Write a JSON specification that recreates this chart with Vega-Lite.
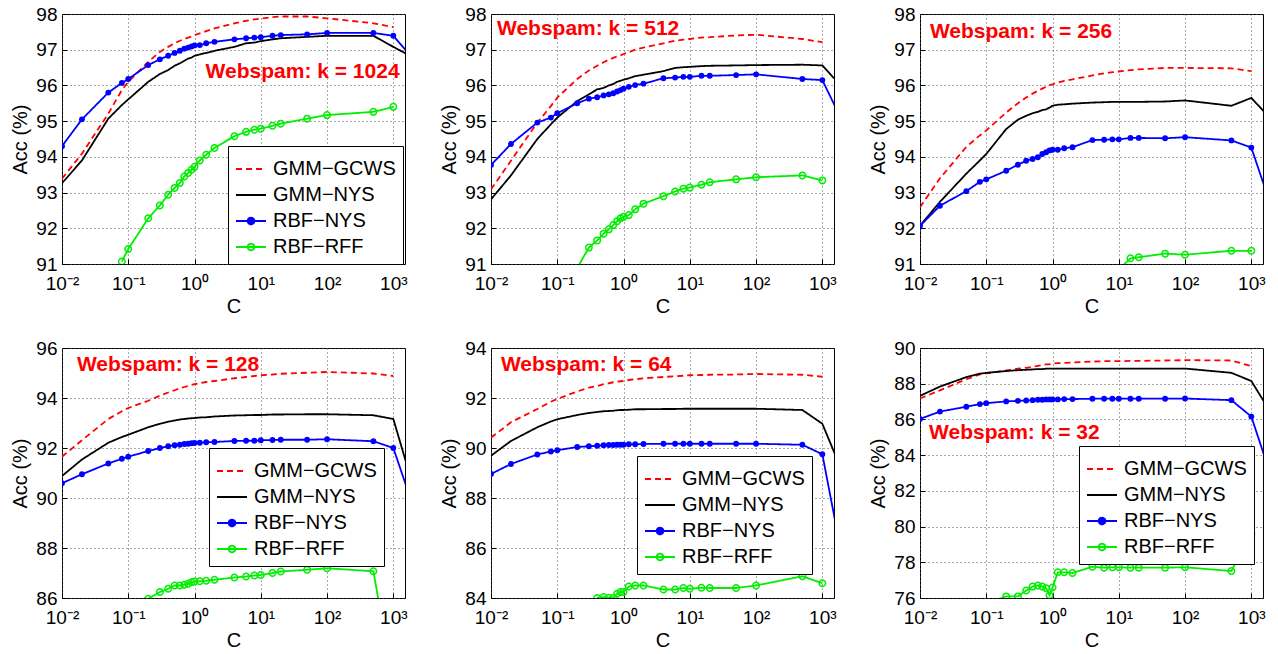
{
"$schema": "https://vega.github.io/schema/vega-lite/v6.json",
"padding": {"left": 10, "top": 4, "right": 0, "bottom": 0},
"autosize": {"type": "pad"},
"background": "white",
"bounds": "flush",
"spacing": {"row": 84, "column": 86},
"columns": 3,
"resolve": {"scale": {"x": "independent", "y": "independent", "color": "independent", "strokeDash": "independent"}, "legend": {"color": "independent", "strokeDash": "independent"}},
"datasets": {
"notes": [
{"k":1024,"C":1.47,"acc":96.37,"label":"Webspam: k = 1024"},
{"k":512,"C":0.0123,"acc":97.58,"label":"Webspam: k = 512"},
{"k":256,"C":0.0141,"acc":97.49,"label":"Webspam: k = 256"},
{"k":128,"C":0.0168,"acc":95.33,"label":"Webspam: k = 128"},
{"k":64,"C":0.0141,"acc":93.33,"label":"Webspam: k = 64"},
{"k":32,"C":0.0137,"acc":85.22,"label":"Webspam: k = 32"}
],
"acc": [
{"k":1024,"s":"GMM−GCWS","C":0.01,"acc":93.39},{"k":1024,"s":"GMM−GCWS","C":0.02,"acc":94.09},{"k":1024,"s":"GMM−GCWS","C":0.05,"acc":95.21},{"k":1024,"s":"GMM−GCWS","C":0.08,"acc":95.87},{"k":1024,"s":"GMM−GCWS","C":0.1,"acc":96.10},{"k":1024,"s":"GMM−GCWS","C":0.2,"acc":96.66},{"k":1024,"s":"GMM−GCWS","C":0.3,"acc":96.94},{"k":1024,"s":"GMM−GCWS","C":0.4,"acc":97.08},{"k":1024,"s":"GMM−GCWS","C":0.5,"acc":97.18},{"k":1024,"s":"GMM−GCWS","C":0.6,"acc":97.25},{"k":1024,"s":"GMM−GCWS","C":0.7,"acc":97.30},{"k":1024,"s":"GMM−GCWS","C":0.8,"acc":97.34},{"k":1024,"s":"GMM−GCWS","C":0.9,"acc":97.37},{"k":1024,"s":"GMM−GCWS","C":1,"acc":97.41},{"k":1024,"s":"GMM−GCWS","C":1.2,"acc":97.46},{"k":1024,"s":"GMM−GCWS","C":1.5,"acc":97.52},{"k":1024,"s":"GMM−GCWS","C":2,"acc":97.60},{"k":1024,"s":"GMM−GCWS","C":4,"acc":97.74},{"k":1024,"s":"GMM−GCWS","C":6,"acc":97.81},{"k":1024,"s":"GMM−GCWS","C":8,"acc":97.85},{"k":1024,"s":"GMM−GCWS","C":10,"acc":97.87},{"k":1024,"s":"GMM−GCWS","C":15,"acc":97.91},{"k":1024,"s":"GMM−GCWS","C":20,"acc":97.93},{"k":1024,"s":"GMM−GCWS","C":50,"acc":97.93},{"k":1024,"s":"GMM−GCWS","C":100,"acc":97.88},{"k":1024,"s":"GMM−GCWS","C":500,"acc":97.74},{"k":1024,"s":"GMM−GCWS","C":1000,"acc":97.63},
{"k":1024,"s":"GMM−NYS","C":0.01,"acc":93.26},{"k":1024,"s":"GMM−NYS","C":0.02,"acc":93.90},{"k":1024,"s":"GMM−NYS","C":0.05,"acc":95.07},{"k":1024,"s":"GMM−NYS","C":0.08,"acc":95.45},{"k":1024,"s":"GMM−NYS","C":0.1,"acc":95.61},{"k":1024,"s":"GMM−NYS","C":0.2,"acc":96.10},{"k":1024,"s":"GMM−NYS","C":0.3,"acc":96.32},{"k":1024,"s":"GMM−NYS","C":0.4,"acc":96.43},{"k":1024,"s":"GMM−NYS","C":0.5,"acc":96.55},{"k":1024,"s":"GMM−NYS","C":0.6,"acc":96.62},{"k":1024,"s":"GMM−NYS","C":0.7,"acc":96.69},{"k":1024,"s":"GMM−NYS","C":0.8,"acc":96.75},{"k":1024,"s":"GMM−NYS","C":0.9,"acc":96.78},{"k":1024,"s":"GMM−NYS","C":1,"acc":96.83},{"k":1024,"s":"GMM−NYS","C":1.2,"acc":96.87},{"k":1024,"s":"GMM−NYS","C":1.5,"acc":96.91},{"k":1024,"s":"GMM−NYS","C":2,"acc":96.97},{"k":1024,"s":"GMM−NYS","C":4,"acc":97.08},{"k":1024,"s":"GMM−NYS","C":6,"acc":97.18},{"k":1024,"s":"GMM−NYS","C":8,"acc":97.20},{"k":1024,"s":"GMM−NYS","C":10,"acc":97.24},{"k":1024,"s":"GMM−NYS","C":15,"acc":97.29},{"k":1024,"s":"GMM−NYS","C":20,"acc":97.32},{"k":1024,"s":"GMM−NYS","C":50,"acc":97.36},{"k":1024,"s":"GMM−NYS","C":100,"acc":97.39},{"k":1024,"s":"GMM−NYS","C":500,"acc":97.39},{"k":1024,"s":"GMM−NYS","C":1000,"acc":97.08},{"k":1024,"s":"GMM−NYS","C":2000,"acc":96.78},
{"k":1024,"s":"RBF−NYS","C":0.01,"acc":94.30},{"k":1024,"s":"RBF−NYS","C":0.02,"acc":95.05},{"k":1024,"s":"RBF−NYS","C":0.05,"acc":95.80},{"k":1024,"s":"RBF−NYS","C":0.08,"acc":96.07},{"k":1024,"s":"RBF−NYS","C":0.1,"acc":96.18},{"k":1024,"s":"RBF−NYS","C":0.2,"acc":96.57},{"k":1024,"s":"RBF−NYS","C":0.3,"acc":96.73},{"k":1024,"s":"RBF−NYS","C":0.4,"acc":96.83},{"k":1024,"s":"RBF−NYS","C":0.5,"acc":96.91},{"k":1024,"s":"RBF−NYS","C":0.6,"acc":96.97},{"k":1024,"s":"RBF−NYS","C":0.7,"acc":97.03},{"k":1024,"s":"RBF−NYS","C":0.8,"acc":97.06},{"k":1024,"s":"RBF−NYS","C":0.9,"acc":97.09},{"k":1024,"s":"RBF−NYS","C":1,"acc":97.12},{"k":1024,"s":"RBF−NYS","C":1.2,"acc":97.13},{"k":1024,"s":"RBF−NYS","C":1.5,"acc":97.18},{"k":1024,"s":"RBF−NYS","C":2,"acc":97.22},{"k":1024,"s":"RBF−NYS","C":4,"acc":97.29},{"k":1024,"s":"RBF−NYS","C":6,"acc":97.32},{"k":1024,"s":"RBF−NYS","C":8,"acc":97.34},{"k":1024,"s":"RBF−NYS","C":10,"acc":97.35},{"k":1024,"s":"RBF−NYS","C":15,"acc":97.39},{"k":1024,"s":"RBF−NYS","C":20,"acc":97.41},{"k":1024,"s":"RBF−NYS","C":50,"acc":97.43},{"k":1024,"s":"RBF−NYS","C":100,"acc":97.47},{"k":1024,"s":"RBF−NYS","C":500,"acc":97.47},{"k":1024,"s":"RBF−NYS","C":1000,"acc":97.39},{"k":1024,"s":"RBF−NYS","C":2000,"acc":96.74},
{"k":1024,"s":"RBF−RFF","C":0.08,"acc":91.07},{"k":1024,"s":"RBF−RFF","C":0.1,"acc":91.42},{"k":1024,"s":"RBF−RFF","C":0.2,"acc":92.28},{"k":1024,"s":"RBF−RFF","C":0.3,"acc":92.64},{"k":1024,"s":"RBF−RFF","C":0.4,"acc":92.94},{"k":1024,"s":"RBF−RFF","C":0.5,"acc":93.13},{"k":1024,"s":"RBF−RFF","C":0.6,"acc":93.27},{"k":1024,"s":"RBF−RFF","C":0.7,"acc":93.45},{"k":1024,"s":"RBF−RFF","C":0.8,"acc":93.55},{"k":1024,"s":"RBF−RFF","C":0.9,"acc":93.64},{"k":1024,"s":"RBF−RFF","C":1,"acc":93.72},{"k":1024,"s":"RBF−RFF","C":1.2,"acc":93.90},{"k":1024,"s":"RBF−RFF","C":1.5,"acc":94.06},{"k":1024,"s":"RBF−RFF","C":2,"acc":94.25},{"k":1024,"s":"RBF−RFF","C":4,"acc":94.58},{"k":1024,"s":"RBF−RFF","C":6,"acc":94.70},{"k":1024,"s":"RBF−RFF","C":8,"acc":94.76},{"k":1024,"s":"RBF−RFF","C":10,"acc":94.79},{"k":1024,"s":"RBF−RFF","C":15,"acc":94.87},{"k":1024,"s":"RBF−RFF","C":20,"acc":94.93},{"k":1024,"s":"RBF−RFF","C":50,"acc":95.07},{"k":1024,"s":"RBF−RFF","C":100,"acc":95.17},{"k":1024,"s":"RBF−RFF","C":500,"acc":95.26},{"k":1024,"s":"RBF−RFF","C":1000,"acc":95.40},

{"k":512,"s":"GMM−GCWS","C":0.01,"acc":93.09},{"k":512,"s":"GMM−GCWS","C":0.02,"acc":93.89},{"k":512,"s":"GMM−GCWS","C":0.05,"acc":94.96},{"k":512,"s":"GMM−GCWS","C":0.08,"acc":95.42},{"k":512,"s":"GMM−GCWS","C":0.1,"acc":95.66},{"k":512,"s":"GMM−GCWS","C":0.2,"acc":96.18},{"k":512,"s":"GMM−GCWS","C":0.3,"acc":96.42},{"k":512,"s":"GMM−GCWS","C":0.4,"acc":96.55},{"k":512,"s":"GMM−GCWS","C":0.5,"acc":96.65},{"k":512,"s":"GMM−GCWS","C":0.6,"acc":96.72},{"k":512,"s":"GMM−GCWS","C":0.7,"acc":96.77},{"k":512,"s":"GMM−GCWS","C":0.8,"acc":96.81},{"k":512,"s":"GMM−GCWS","C":0.9,"acc":96.84},{"k":512,"s":"GMM−GCWS","C":1,"acc":96.88},{"k":512,"s":"GMM−GCWS","C":1.2,"acc":96.93},{"k":512,"s":"GMM−GCWS","C":1.5,"acc":97.00},{"k":512,"s":"GMM−GCWS","C":2,"acc":97.06},{"k":512,"s":"GMM−GCWS","C":4,"acc":97.18},{"k":512,"s":"GMM−GCWS","C":6,"acc":97.25},{"k":512,"s":"GMM−GCWS","C":8,"acc":97.28},{"k":512,"s":"GMM−GCWS","C":10,"acc":97.30},{"k":512,"s":"GMM−GCWS","C":15,"acc":97.34},{"k":512,"s":"GMM−GCWS","C":20,"acc":97.35},{"k":512,"s":"GMM−GCWS","C":50,"acc":97.40},{"k":512,"s":"GMM−GCWS","C":100,"acc":97.42},{"k":512,"s":"GMM−GCWS","C":500,"acc":97.30},{"k":512,"s":"GMM−GCWS","C":1000,"acc":97.21},
{"k":512,"s":"GMM−NYS","C":0.01,"acc":92.81},{"k":512,"s":"GMM−NYS","C":0.02,"acc":93.48},{"k":512,"s":"GMM−NYS","C":0.05,"acc":94.50},{"k":512,"s":"GMM−NYS","C":0.08,"acc":94.91},{"k":512,"s":"GMM−NYS","C":0.1,"acc":95.10},{"k":512,"s":"GMM−NYS","C":0.2,"acc":95.56},{"k":512,"s":"GMM−NYS","C":0.3,"acc":95.75},{"k":512,"s":"GMM−NYS","C":0.4,"acc":95.89},{"k":512,"s":"GMM−NYS","C":0.5,"acc":95.93},{"k":512,"s":"GMM−NYS","C":0.6,"acc":96.00},{"k":512,"s":"GMM−NYS","C":0.7,"acc":96.04},{"k":512,"s":"GMM−NYS","C":0.8,"acc":96.10},{"k":512,"s":"GMM−NYS","C":0.9,"acc":96.13},{"k":512,"s":"GMM−NYS","C":1,"acc":96.16},{"k":512,"s":"GMM−NYS","C":1.2,"acc":96.20},{"k":512,"s":"GMM−NYS","C":1.5,"acc":96.26},{"k":512,"s":"GMM−NYS","C":2,"acc":96.30},{"k":512,"s":"GMM−NYS","C":4,"acc":96.40},{"k":512,"s":"GMM−NYS","C":6,"acc":96.49},{"k":512,"s":"GMM−NYS","C":8,"acc":96.51},{"k":512,"s":"GMM−NYS","C":10,"acc":96.52},{"k":512,"s":"GMM−NYS","C":15,"acc":96.54},{"k":512,"s":"GMM−NYS","C":20,"acc":96.55},{"k":512,"s":"GMM−NYS","C":50,"acc":96.56},{"k":512,"s":"GMM−NYS","C":100,"acc":96.57},{"k":512,"s":"GMM−NYS","C":500,"acc":96.58},{"k":512,"s":"GMM−NYS","C":1000,"acc":96.56},{"k":512,"s":"GMM−NYS","C":2000,"acc":95.95},
{"k":512,"s":"RBF−NYS","C":0.01,"acc":93.77},{"k":512,"s":"RBF−NYS","C":0.02,"acc":94.36},{"k":512,"s":"RBF−NYS","C":0.05,"acc":94.96},{"k":512,"s":"RBF−NYS","C":0.08,"acc":95.10},{"k":512,"s":"RBF−NYS","C":0.1,"acc":95.22},{"k":512,"s":"RBF−NYS","C":0.2,"acc":95.50},{"k":512,"s":"RBF−NYS","C":0.3,"acc":95.63},{"k":512,"s":"RBF−NYS","C":0.4,"acc":95.67},{"k":512,"s":"RBF−NYS","C":0.5,"acc":95.72},{"k":512,"s":"RBF−NYS","C":0.6,"acc":95.75},{"k":512,"s":"RBF−NYS","C":0.7,"acc":95.78},{"k":512,"s":"RBF−NYS","C":0.8,"acc":95.83},{"k":512,"s":"RBF−NYS","C":0.9,"acc":95.87},{"k":512,"s":"RBF−NYS","C":1,"acc":95.91},{"k":512,"s":"RBF−NYS","C":1.2,"acc":95.96},{"k":512,"s":"RBF−NYS","C":1.5,"acc":96.01},{"k":512,"s":"RBF−NYS","C":2,"acc":96.05},{"k":512,"s":"RBF−NYS","C":4,"acc":96.20},{"k":512,"s":"RBF−NYS","C":6,"acc":96.22},{"k":512,"s":"RBF−NYS","C":8,"acc":96.24},{"k":512,"s":"RBF−NYS","C":10,"acc":96.24},{"k":512,"s":"RBF−NYS","C":15,"acc":96.27},{"k":512,"s":"RBF−NYS","C":20,"acc":96.27},{"k":512,"s":"RBF−NYS","C":50,"acc":96.29},{"k":512,"s":"RBF−NYS","C":100,"acc":96.31},{"k":512,"s":"RBF−NYS","C":500,"acc":96.18},{"k":512,"s":"RBF−NYS","C":1000,"acc":96.15},{"k":512,"s":"RBF−NYS","C":2000,"acc":95.00},
{"k":512,"s":"RBF−RFF","C":0.2,"acc":90.89},{"k":512,"s":"RBF−RFF","C":0.3,"acc":91.46},{"k":512,"s":"RBF−RFF","C":0.4,"acc":91.66},{"k":512,"s":"RBF−RFF","C":0.5,"acc":91.85},{"k":512,"s":"RBF−RFF","C":0.6,"acc":91.97},{"k":512,"s":"RBF−RFF","C":0.7,"acc":92.09},{"k":512,"s":"RBF−RFF","C":0.8,"acc":92.20},{"k":512,"s":"RBF−RFF","C":0.9,"acc":92.28},{"k":512,"s":"RBF−RFF","C":1,"acc":92.32},{"k":512,"s":"RBF−RFF","C":1.2,"acc":92.37},{"k":512,"s":"RBF−RFF","C":1.5,"acc":92.53},{"k":512,"s":"RBF−RFF","C":2,"acc":92.69},{"k":512,"s":"RBF−RFF","C":4,"acc":92.90},{"k":512,"s":"RBF−RFF","C":6,"acc":93.03},{"k":512,"s":"RBF−RFF","C":8,"acc":93.11},{"k":512,"s":"RBF−RFF","C":10,"acc":93.14},{"k":512,"s":"RBF−RFF","C":15,"acc":93.22},{"k":512,"s":"RBF−RFF","C":20,"acc":93.29},{"k":512,"s":"RBF−RFF","C":50,"acc":93.37},{"k":512,"s":"RBF−RFF","C":100,"acc":93.43},{"k":512,"s":"RBF−RFF","C":500,"acc":93.48},{"k":512,"s":"RBF−RFF","C":1000,"acc":93.34},

{"k":256,"s":"GMM−GCWS","C":0.01,"acc":92.59},{"k":256,"s":"GMM−GCWS","C":0.02,"acc":93.40},{"k":256,"s":"GMM−GCWS","C":0.05,"acc":94.28},{"k":256,"s":"GMM−GCWS","C":0.08,"acc":94.60},{"k":256,"s":"GMM−GCWS","C":0.1,"acc":94.74},{"k":256,"s":"GMM−GCWS","C":0.2,"acc":95.24},{"k":256,"s":"GMM−GCWS","C":0.3,"acc":95.50},{"k":256,"s":"GMM−GCWS","C":0.4,"acc":95.66},{"k":256,"s":"GMM−GCWS","C":0.5,"acc":95.77},{"k":256,"s":"GMM−GCWS","C":0.6,"acc":95.85},{"k":256,"s":"GMM−GCWS","C":0.7,"acc":95.91},{"k":256,"s":"GMM−GCWS","C":0.8,"acc":95.96},{"k":256,"s":"GMM−GCWS","C":0.9,"acc":96.01},{"k":256,"s":"GMM−GCWS","C":1,"acc":96.03},{"k":256,"s":"GMM−GCWS","C":1.2,"acc":96.08},{"k":256,"s":"GMM−GCWS","C":1.5,"acc":96.13},{"k":256,"s":"GMM−GCWS","C":2,"acc":96.17},{"k":256,"s":"GMM−GCWS","C":4,"acc":96.28},{"k":256,"s":"GMM−GCWS","C":6,"acc":96.34},{"k":256,"s":"GMM−GCWS","C":8,"acc":96.37},{"k":256,"s":"GMM−GCWS","C":10,"acc":96.39},{"k":256,"s":"GMM−GCWS","C":15,"acc":96.43},{"k":256,"s":"GMM−GCWS","C":20,"acc":96.45},{"k":256,"s":"GMM−GCWS","C":50,"acc":96.49},{"k":256,"s":"GMM−GCWS","C":100,"acc":96.49},{"k":256,"s":"GMM−GCWS","C":500,"acc":96.48},{"k":256,"s":"GMM−GCWS","C":1000,"acc":96.40},
{"k":256,"s":"GMM−NYS","C":0.01,"acc":92.07},{"k":256,"s":"GMM−NYS","C":0.02,"acc":92.74},{"k":256,"s":"GMM−NYS","C":0.05,"acc":93.53},{"k":256,"s":"GMM−NYS","C":0.08,"acc":93.90},{"k":256,"s":"GMM−NYS","C":0.1,"acc":94.08},{"k":256,"s":"GMM−NYS","C":0.2,"acc":94.78},{"k":256,"s":"GMM−NYS","C":0.3,"acc":95.04},{"k":256,"s":"GMM−NYS","C":0.4,"acc":95.15},{"k":256,"s":"GMM−NYS","C":0.5,"acc":95.22},{"k":256,"s":"GMM−NYS","C":0.6,"acc":95.26},{"k":256,"s":"GMM−NYS","C":0.7,"acc":95.31},{"k":256,"s":"GMM−NYS","C":0.8,"acc":95.33},{"k":256,"s":"GMM−NYS","C":0.9,"acc":95.38},{"k":256,"s":"GMM−NYS","C":1,"acc":95.43},{"k":256,"s":"GMM−NYS","C":1.2,"acc":95.46},{"k":256,"s":"GMM−NYS","C":1.5,"acc":95.47},{"k":256,"s":"GMM−NYS","C":2,"acc":95.49},{"k":256,"s":"GMM−NYS","C":4,"acc":95.52},{"k":256,"s":"GMM−NYS","C":6,"acc":95.53},{"k":256,"s":"GMM−NYS","C":8,"acc":95.54},{"k":256,"s":"GMM−NYS","C":10,"acc":95.54},{"k":256,"s":"GMM−NYS","C":15,"acc":95.54},{"k":256,"s":"GMM−NYS","C":20,"acc":95.54},{"k":256,"s":"GMM−NYS","C":50,"acc":95.55},{"k":256,"s":"GMM−NYS","C":100,"acc":95.58},{"k":256,"s":"GMM−NYS","C":500,"acc":95.43},{"k":256,"s":"GMM−NYS","C":1000,"acc":95.65},{"k":256,"s":"GMM−NYS","C":2000,"acc":95.05},
{"k":256,"s":"RBF−NYS","C":0.01,"acc":92.07},{"k":256,"s":"RBF−NYS","C":0.02,"acc":92.63},{"k":256,"s":"RBF−NYS","C":0.05,"acc":93.04},{"k":256,"s":"RBF−NYS","C":0.08,"acc":93.30},{"k":256,"s":"RBF−NYS","C":0.1,"acc":93.37},{"k":256,"s":"RBF−NYS","C":0.2,"acc":93.61},{"k":256,"s":"RBF−NYS","C":0.3,"acc":93.78},{"k":256,"s":"RBF−NYS","C":0.4,"acc":93.89},{"k":256,"s":"RBF−NYS","C":0.5,"acc":93.94},{"k":256,"s":"RBF−NYS","C":0.6,"acc":93.99},{"k":256,"s":"RBF−NYS","C":0.7,"acc":94.08},{"k":256,"s":"RBF−NYS","C":0.8,"acc":94.13},{"k":256,"s":"RBF−NYS","C":0.9,"acc":94.18},{"k":256,"s":"RBF−NYS","C":1,"acc":94.20},{"k":256,"s":"RBF−NYS","C":1.2,"acc":94.20},{"k":256,"s":"RBF−NYS","C":1.5,"acc":94.24},{"k":256,"s":"RBF−NYS","C":2,"acc":94.27},{"k":256,"s":"RBF−NYS","C":4,"acc":94.47},{"k":256,"s":"RBF−NYS","C":6,"acc":94.48},{"k":256,"s":"RBF−NYS","C":8,"acc":94.49},{"k":256,"s":"RBF−NYS","C":10,"acc":94.49},{"k":256,"s":"RBF−NYS","C":15,"acc":94.53},{"k":256,"s":"RBF−NYS","C":20,"acc":94.53},{"k":256,"s":"RBF−NYS","C":50,"acc":94.52},{"k":256,"s":"RBF−NYS","C":100,"acc":94.55},{"k":256,"s":"RBF−NYS","C":500,"acc":94.46},{"k":256,"s":"RBF−NYS","C":1000,"acc":94.26},{"k":256,"s":"RBF−NYS","C":2000,"acc":92.60},
{"k":256,"s":"RBF−RFF","C":10,"acc":90.85},{"k":256,"s":"RBF−RFF","C":15,"acc":91.16},{"k":256,"s":"RBF−RFF","C":20,"acc":91.19},{"k":256,"s":"RBF−RFF","C":50,"acc":91.29},{"k":256,"s":"RBF−RFF","C":100,"acc":91.26},{"k":256,"s":"RBF−RFF","C":500,"acc":91.37},{"k":256,"s":"RBF−RFF","C":1000,"acc":91.37},

{"k":128,"s":"GMM−GCWS","C":0.01,"acc":91.65},{"k":128,"s":"GMM−GCWS","C":0.02,"acc":92.31},{"k":128,"s":"GMM−GCWS","C":0.05,"acc":93.16},{"k":128,"s":"GMM−GCWS","C":0.08,"acc":93.47},{"k":128,"s":"GMM−GCWS","C":0.1,"acc":93.60},{"k":128,"s":"GMM−GCWS","C":0.2,"acc":93.89},{"k":128,"s":"GMM−GCWS","C":0.3,"acc":94.09},{"k":128,"s":"GMM−GCWS","C":0.4,"acc":94.22},{"k":128,"s":"GMM−GCWS","C":0.5,"acc":94.31},{"k":128,"s":"GMM−GCWS","C":0.6,"acc":94.39},{"k":128,"s":"GMM−GCWS","C":0.7,"acc":94.44},{"k":128,"s":"GMM−GCWS","C":0.8,"acc":94.48},{"k":128,"s":"GMM−GCWS","C":0.9,"acc":94.52},{"k":128,"s":"GMM−GCWS","C":1,"acc":94.55},{"k":128,"s":"GMM−GCWS","C":1.2,"acc":94.59},{"k":128,"s":"GMM−GCWS","C":1.5,"acc":94.64},{"k":128,"s":"GMM−GCWS","C":2,"acc":94.68},{"k":128,"s":"GMM−GCWS","C":4,"acc":94.79},{"k":128,"s":"GMM−GCWS","C":6,"acc":94.84},{"k":128,"s":"GMM−GCWS","C":8,"acc":94.88},{"k":128,"s":"GMM−GCWS","C":10,"acc":94.91},{"k":128,"s":"GMM−GCWS","C":15,"acc":94.94},{"k":128,"s":"GMM−GCWS","C":20,"acc":94.97},{"k":128,"s":"GMM−GCWS","C":50,"acc":95.01},{"k":128,"s":"GMM−GCWS","C":100,"acc":95.04},{"k":128,"s":"GMM−GCWS","C":500,"acc":94.98},{"k":128,"s":"GMM−GCWS","C":1000,"acc":94.88},
{"k":128,"s":"GMM−NYS","C":0.01,"acc":90.88},{"k":128,"s":"GMM−NYS","C":0.02,"acc":91.54},{"k":128,"s":"GMM−NYS","C":0.05,"acc":92.21},{"k":128,"s":"GMM−NYS","C":0.08,"acc":92.44},{"k":128,"s":"GMM−NYS","C":0.1,"acc":92.53},{"k":128,"s":"GMM−NYS","C":0.2,"acc":92.83},{"k":128,"s":"GMM−NYS","C":0.3,"acc":92.97},{"k":128,"s":"GMM−NYS","C":0.4,"acc":93.05},{"k":128,"s":"GMM−NYS","C":0.5,"acc":93.10},{"k":128,"s":"GMM−NYS","C":0.6,"acc":93.14},{"k":128,"s":"GMM−NYS","C":0.7,"acc":93.16},{"k":128,"s":"GMM−NYS","C":0.8,"acc":93.18},{"k":128,"s":"GMM−NYS","C":0.9,"acc":93.19},{"k":128,"s":"GMM−NYS","C":1,"acc":93.20},{"k":128,"s":"GMM−NYS","C":1.2,"acc":93.22},{"k":128,"s":"GMM−NYS","C":1.5,"acc":93.23},{"k":128,"s":"GMM−NYS","C":2,"acc":93.26},{"k":128,"s":"GMM−NYS","C":4,"acc":93.30},{"k":128,"s":"GMM−NYS","C":6,"acc":93.31},{"k":128,"s":"GMM−NYS","C":8,"acc":93.32},{"k":128,"s":"GMM−NYS","C":10,"acc":93.32},{"k":128,"s":"GMM−NYS","C":15,"acc":93.34},{"k":128,"s":"GMM−NYS","C":20,"acc":93.34},{"k":128,"s":"GMM−NYS","C":50,"acc":93.35},{"k":128,"s":"GMM−NYS","C":100,"acc":93.35},{"k":128,"s":"GMM−NYS","C":500,"acc":93.31},{"k":128,"s":"GMM−NYS","C":1000,"acc":93.16},{"k":128,"s":"GMM−NYS","C":2000,"acc":90.45},
{"k":128,"s":"RBF−NYS","C":0.01,"acc":90.59},{"k":128,"s":"RBF−NYS","C":0.02,"acc":90.95},{"k":128,"s":"RBF−NYS","C":0.05,"acc":91.38},{"k":128,"s":"RBF−NYS","C":0.08,"acc":91.57},{"k":128,"s":"RBF−NYS","C":0.1,"acc":91.65},{"k":128,"s":"RBF−NYS","C":0.2,"acc":91.88},{"k":128,"s":"RBF−NYS","C":0.3,"acc":92.00},{"k":128,"s":"RBF−NYS","C":0.4,"acc":92.07},{"k":128,"s":"RBF−NYS","C":0.5,"acc":92.11},{"k":128,"s":"RBF−NYS","C":0.6,"acc":92.13},{"k":128,"s":"RBF−NYS","C":0.7,"acc":92.16},{"k":128,"s":"RBF−NYS","C":0.8,"acc":92.17},{"k":128,"s":"RBF−NYS","C":0.9,"acc":92.19},{"k":128,"s":"RBF−NYS","C":1,"acc":92.20},{"k":128,"s":"RBF−NYS","C":1.2,"acc":92.21},{"k":128,"s":"RBF−NYS","C":1.5,"acc":92.23},{"k":128,"s":"RBF−NYS","C":2,"acc":92.24},{"k":128,"s":"RBF−NYS","C":4,"acc":92.28},{"k":128,"s":"RBF−NYS","C":6,"acc":92.29},{"k":128,"s":"RBF−NYS","C":8,"acc":92.29},{"k":128,"s":"RBF−NYS","C":10,"acc":92.31},{"k":128,"s":"RBF−NYS","C":15,"acc":92.32},{"k":128,"s":"RBF−NYS","C":20,"acc":92.33},{"k":128,"s":"RBF−NYS","C":50,"acc":92.33},{"k":128,"s":"RBF−NYS","C":100,"acc":92.35},{"k":128,"s":"RBF−NYS","C":500,"acc":92.27},{"k":128,"s":"RBF−NYS","C":1000,"acc":92.00},{"k":128,"s":"RBF−NYS","C":2000,"acc":89.65},
{"k":128,"s":"RBF−RFF","C":0.2,"acc":85.97},{"k":128,"s":"RBF−RFF","C":0.3,"acc":86.24},{"k":128,"s":"RBF−RFF","C":0.4,"acc":86.37},{"k":128,"s":"RBF−RFF","C":0.5,"acc":86.50},{"k":128,"s":"RBF−RFF","C":0.6,"acc":86.50},{"k":128,"s":"RBF−RFF","C":0.7,"acc":86.53},{"k":128,"s":"RBF−RFF","C":0.8,"acc":86.57},{"k":128,"s":"RBF−RFF","C":0.9,"acc":86.63},{"k":128,"s":"RBF−RFF","C":1,"acc":86.66},{"k":128,"s":"RBF−RFF","C":1.2,"acc":86.67},{"k":128,"s":"RBF−RFF","C":1.5,"acc":86.69},{"k":128,"s":"RBF−RFF","C":2,"acc":86.73},{"k":128,"s":"RBF−RFF","C":4,"acc":86.82},{"k":128,"s":"RBF−RFF","C":6,"acc":86.86},{"k":128,"s":"RBF−RFF","C":8,"acc":86.90},{"k":128,"s":"RBF−RFF","C":10,"acc":86.92},{"k":128,"s":"RBF−RFF","C":15,"acc":87.00},{"k":128,"s":"RBF−RFF","C":20,"acc":87.06},{"k":128,"s":"RBF−RFF","C":50,"acc":87.13},{"k":128,"s":"RBF−RFF","C":100,"acc":87.19},{"k":128,"s":"RBF−RFF","C":500,"acc":87.07},{"k":128,"s":"RBF−RFF","C":1000,"acc":82.50},

{"k":64,"s":"GMM−GCWS","C":0.01,"acc":90.41},{"k":64,"s":"GMM−GCWS","C":0.02,"acc":91.03},{"k":64,"s":"GMM−GCWS","C":0.05,"acc":91.56},{"k":64,"s":"GMM−GCWS","C":0.08,"acc":91.85},{"k":64,"s":"GMM−GCWS","C":0.1,"acc":91.96},{"k":64,"s":"GMM−GCWS","C":0.2,"acc":92.26},{"k":64,"s":"GMM−GCWS","C":0.3,"acc":92.42},{"k":64,"s":"GMM−GCWS","C":0.4,"acc":92.48},{"k":64,"s":"GMM−GCWS","C":0.5,"acc":92.55},{"k":64,"s":"GMM−GCWS","C":0.6,"acc":92.59},{"k":64,"s":"GMM−GCWS","C":0.7,"acc":92.63},{"k":64,"s":"GMM−GCWS","C":0.8,"acc":92.65},{"k":64,"s":"GMM−GCWS","C":0.9,"acc":92.67},{"k":64,"s":"GMM−GCWS","C":1,"acc":92.68},{"k":64,"s":"GMM−GCWS","C":1.2,"acc":92.72},{"k":64,"s":"GMM−GCWS","C":1.5,"acc":92.75},{"k":64,"s":"GMM−GCWS","C":2,"acc":92.79},{"k":64,"s":"GMM−GCWS","C":4,"acc":92.84},{"k":64,"s":"GMM−GCWS","C":6,"acc":92.87},{"k":64,"s":"GMM−GCWS","C":8,"acc":92.89},{"k":64,"s":"GMM−GCWS","C":10,"acc":92.91},{"k":64,"s":"GMM−GCWS","C":15,"acc":92.92},{"k":64,"s":"GMM−GCWS","C":20,"acc":92.93},{"k":64,"s":"GMM−GCWS","C":50,"acc":92.94},{"k":64,"s":"GMM−GCWS","C":100,"acc":92.96},{"k":64,"s":"GMM−GCWS","C":500,"acc":92.93},{"k":64,"s":"GMM−GCWS","C":1000,"acc":92.85},
{"k":64,"s":"GMM−NYS","C":0.01,"acc":89.69},{"k":64,"s":"GMM−NYS","C":0.02,"acc":90.28},{"k":64,"s":"GMM−NYS","C":0.05,"acc":90.83},{"k":64,"s":"GMM−NYS","C":0.08,"acc":91.06},{"k":64,"s":"GMM−NYS","C":0.1,"acc":91.15},{"k":64,"s":"GMM−NYS","C":0.2,"acc":91.32},{"k":64,"s":"GMM−NYS","C":0.3,"acc":91.40},{"k":64,"s":"GMM−NYS","C":0.4,"acc":91.44},{"k":64,"s":"GMM−NYS","C":0.5,"acc":91.47},{"k":64,"s":"GMM−NYS","C":0.6,"acc":91.48},{"k":64,"s":"GMM−NYS","C":0.7,"acc":91.49},{"k":64,"s":"GMM−NYS","C":0.8,"acc":91.51},{"k":64,"s":"GMM−NYS","C":0.9,"acc":91.52},{"k":64,"s":"GMM−NYS","C":1,"acc":91.52},{"k":64,"s":"GMM−NYS","C":1.2,"acc":91.53},{"k":64,"s":"GMM−NYS","C":1.5,"acc":91.55},{"k":64,"s":"GMM−NYS","C":2,"acc":91.55},{"k":64,"s":"GMM−NYS","C":4,"acc":91.56},{"k":64,"s":"GMM−NYS","C":6,"acc":91.56},{"k":64,"s":"GMM−NYS","C":8,"acc":91.57},{"k":64,"s":"GMM−NYS","C":10,"acc":91.57},{"k":64,"s":"GMM−NYS","C":15,"acc":91.57},{"k":64,"s":"GMM−NYS","C":20,"acc":91.57},{"k":64,"s":"GMM−NYS","C":50,"acc":91.57},{"k":64,"s":"GMM−NYS","C":100,"acc":91.57},{"k":64,"s":"GMM−NYS","C":500,"acc":91.52},{"k":64,"s":"GMM−NYS","C":1000,"acc":90.97},{"k":64,"s":"GMM−NYS","C":2000,"acc":89.05},
{"k":64,"s":"RBF−NYS","C":0.01,"acc":88.96},{"k":64,"s":"RBF−NYS","C":0.02,"acc":89.36},{"k":64,"s":"RBF−NYS","C":0.05,"acc":89.74},{"k":64,"s":"RBF−NYS","C":0.08,"acc":89.86},{"k":64,"s":"RBF−NYS","C":0.1,"acc":89.91},{"k":64,"s":"RBF−NYS","C":0.2,"acc":90.04},{"k":64,"s":"RBF−NYS","C":0.3,"acc":90.07},{"k":64,"s":"RBF−NYS","C":0.4,"acc":90.09},{"k":64,"s":"RBF−NYS","C":0.5,"acc":90.11},{"k":64,"s":"RBF−NYS","C":0.6,"acc":90.12},{"k":64,"s":"RBF−NYS","C":0.7,"acc":90.12},{"k":64,"s":"RBF−NYS","C":0.8,"acc":90.13},{"k":64,"s":"RBF−NYS","C":0.9,"acc":90.13},{"k":64,"s":"RBF−NYS","C":1,"acc":90.13},{"k":64,"s":"RBF−NYS","C":1.2,"acc":90.15},{"k":64,"s":"RBF−NYS","C":1.5,"acc":90.15},{"k":64,"s":"RBF−NYS","C":2,"acc":90.16},{"k":64,"s":"RBF−NYS","C":4,"acc":90.17},{"k":64,"s":"RBF−NYS","C":6,"acc":90.17},{"k":64,"s":"RBF−NYS","C":8,"acc":90.17},{"k":64,"s":"RBF−NYS","C":10,"acc":90.17},{"k":64,"s":"RBF−NYS","C":15,"acc":90.17},{"k":64,"s":"RBF−NYS","C":20,"acc":90.17},{"k":64,"s":"RBF−NYS","C":50,"acc":90.17},{"k":64,"s":"RBF−NYS","C":100,"acc":90.17},{"k":64,"s":"RBF−NYS","C":500,"acc":90.13},{"k":64,"s":"RBF−NYS","C":1000,"acc":89.75},{"k":64,"s":"RBF−NYS","C":2000,"acc":85.60},
{"k":64,"s":"RBF−RFF","C":0.4,"acc":84.00},{"k":64,"s":"RBF−RFF","C":0.5,"acc":84.04},{"k":64,"s":"RBF−RFF","C":0.6,"acc":84.01},{"k":64,"s":"RBF−RFF","C":0.7,"acc":84.00},{"k":64,"s":"RBF−RFF","C":0.8,"acc":84.17},{"k":64,"s":"RBF−RFF","C":0.9,"acc":84.24},{"k":64,"s":"RBF−RFF","C":1,"acc":84.24},{"k":64,"s":"RBF−RFF","C":1.2,"acc":84.46},{"k":64,"s":"RBF−RFF","C":1.5,"acc":84.50},{"k":64,"s":"RBF−RFF","C":2,"acc":84.50},{"k":64,"s":"RBF−RFF","C":4,"acc":84.34},{"k":64,"s":"RBF−RFF","C":6,"acc":84.34},{"k":64,"s":"RBF−RFF","C":8,"acc":84.40},{"k":64,"s":"RBF−RFF","C":10,"acc":84.37},{"k":64,"s":"RBF−RFF","C":15,"acc":84.41},{"k":64,"s":"RBF−RFF","C":20,"acc":84.40},{"k":64,"s":"RBF−RFF","C":50,"acc":84.40},{"k":64,"s":"RBF−RFF","C":100,"acc":84.50},{"k":64,"s":"RBF−RFF","C":500,"acc":84.87},{"k":64,"s":"RBF−RFF","C":1000,"acc":84.59},

{"k":32,"s":"GMM−GCWS","C":0.01,"acc":87.17},{"k":32,"s":"GMM−GCWS","C":0.02,"acc":87.63},{"k":32,"s":"GMM−GCWS","C":0.05,"acc":88.25},{"k":32,"s":"GMM−GCWS","C":0.08,"acc":88.52},{"k":32,"s":"GMM−GCWS","C":0.1,"acc":88.58},{"k":32,"s":"GMM−GCWS","C":0.2,"acc":88.74},{"k":32,"s":"GMM−GCWS","C":0.3,"acc":88.84},{"k":32,"s":"GMM−GCWS","C":0.4,"acc":88.89},{"k":32,"s":"GMM−GCWS","C":0.5,"acc":88.95},{"k":32,"s":"GMM−GCWS","C":0.6,"acc":89.00},{"k":32,"s":"GMM−GCWS","C":0.7,"acc":89.04},{"k":32,"s":"GMM−GCWS","C":0.8,"acc":89.08},{"k":32,"s":"GMM−GCWS","C":0.9,"acc":89.09},{"k":32,"s":"GMM−GCWS","C":1,"acc":89.13},{"k":32,"s":"GMM−GCWS","C":1.2,"acc":89.15},{"k":32,"s":"GMM−GCWS","C":1.5,"acc":89.17},{"k":32,"s":"GMM−GCWS","C":2,"acc":89.19},{"k":32,"s":"GMM−GCWS","C":4,"acc":89.24},{"k":32,"s":"GMM−GCWS","C":6,"acc":89.26},{"k":32,"s":"GMM−GCWS","C":8,"acc":89.26},{"k":32,"s":"GMM−GCWS","C":10,"acc":89.26},{"k":32,"s":"GMM−GCWS","C":15,"acc":89.28},{"k":32,"s":"GMM−GCWS","C":20,"acc":89.28},{"k":32,"s":"GMM−GCWS","C":50,"acc":89.30},{"k":32,"s":"GMM−GCWS","C":100,"acc":89.32},{"k":32,"s":"GMM−GCWS","C":500,"acc":89.30},{"k":32,"s":"GMM−GCWS","C":1000,"acc":88.98},
{"k":32,"s":"GMM−NYS","C":0.01,"acc":87.32},{"k":32,"s":"GMM−NYS","C":0.02,"acc":87.84},{"k":32,"s":"GMM−NYS","C":0.05,"acc":88.37},{"k":32,"s":"GMM−NYS","C":0.08,"acc":88.56},{"k":32,"s":"GMM−NYS","C":0.1,"acc":88.61},{"k":32,"s":"GMM−NYS","C":0.2,"acc":88.71},{"k":32,"s":"GMM−NYS","C":0.3,"acc":88.76},{"k":32,"s":"GMM−NYS","C":0.4,"acc":88.78},{"k":32,"s":"GMM−NYS","C":0.5,"acc":88.80},{"k":32,"s":"GMM−NYS","C":0.6,"acc":88.82},{"k":32,"s":"GMM−NYS","C":0.7,"acc":88.82},{"k":32,"s":"GMM−NYS","C":0.8,"acc":88.84},{"k":32,"s":"GMM−NYS","C":0.9,"acc":88.84},{"k":32,"s":"GMM−NYS","C":1,"acc":88.85},{"k":32,"s":"GMM−NYS","C":1.2,"acc":88.85},{"k":32,"s":"GMM−NYS","C":1.5,"acc":88.85},{"k":32,"s":"GMM−NYS","C":2,"acc":88.85},{"k":32,"s":"GMM−NYS","C":4,"acc":88.85},{"k":32,"s":"GMM−NYS","C":6,"acc":88.85},{"k":32,"s":"GMM−NYS","C":8,"acc":88.85},{"k":32,"s":"GMM−NYS","C":10,"acc":88.85},{"k":32,"s":"GMM−NYS","C":15,"acc":88.85},{"k":32,"s":"GMM−NYS","C":20,"acc":88.85},{"k":32,"s":"GMM−NYS","C":50,"acc":88.85},{"k":32,"s":"GMM−NYS","C":100,"acc":88.85},{"k":32,"s":"GMM−NYS","C":500,"acc":88.61},{"k":32,"s":"GMM−NYS","C":1000,"acc":88.15},{"k":32,"s":"GMM−NYS","C":2000,"acc":86.34},
{"k":32,"s":"RBF−NYS","C":0.01,"acc":86.03},{"k":32,"s":"RBF−NYS","C":0.02,"acc":86.44},{"k":32,"s":"RBF−NYS","C":0.05,"acc":86.71},{"k":32,"s":"RBF−NYS","C":0.08,"acc":86.86},{"k":32,"s":"RBF−NYS","C":0.1,"acc":86.91},{"k":32,"s":"RBF−NYS","C":0.2,"acc":87.01},{"k":32,"s":"RBF−NYS","C":0.3,"acc":87.04},{"k":32,"s":"RBF−NYS","C":0.4,"acc":87.06},{"k":32,"s":"RBF−NYS","C":0.5,"acc":87.08},{"k":32,"s":"RBF−NYS","C":0.6,"acc":87.10},{"k":32,"s":"RBF−NYS","C":0.7,"acc":87.10},{"k":32,"s":"RBF−NYS","C":0.8,"acc":87.12},{"k":32,"s":"RBF−NYS","C":0.9,"acc":87.12},{"k":32,"s":"RBF−NYS","C":1,"acc":87.12},{"k":32,"s":"RBF−NYS","C":1.2,"acc":87.12},{"k":32,"s":"RBF−NYS","C":1.5,"acc":87.14},{"k":32,"s":"RBF−NYS","C":2,"acc":87.14},{"k":32,"s":"RBF−NYS","C":4,"acc":87.16},{"k":32,"s":"RBF−NYS","C":6,"acc":87.16},{"k":32,"s":"RBF−NYS","C":8,"acc":87.16},{"k":32,"s":"RBF−NYS","C":10,"acc":87.16},{"k":32,"s":"RBF−NYS","C":15,"acc":87.16},{"k":32,"s":"RBF−NYS","C":20,"acc":87.16},{"k":32,"s":"RBF−NYS","C":50,"acc":87.16},{"k":32,"s":"RBF−NYS","C":100,"acc":87.17},{"k":32,"s":"RBF−NYS","C":500,"acc":87.08},{"k":32,"s":"RBF−NYS","C":1000,"acc":86.16},{"k":32,"s":"RBF−NYS","C":2000,"acc":82.78},
{"k":32,"s":"RBF−RFF","C":0.1,"acc":75.70},{"k":32,"s":"RBF−RFF","C":0.2,"acc":76.09},{"k":32,"s":"RBF−RFF","C":0.3,"acc":76.09},{"k":32,"s":"RBF−RFF","C":0.4,"acc":76.42},{"k":32,"s":"RBF−RFF","C":0.5,"acc":76.64},{"k":32,"s":"RBF−RFF","C":0.6,"acc":76.70},{"k":32,"s":"RBF−RFF","C":0.7,"acc":76.64},{"k":32,"s":"RBF−RFF","C":0.8,"acc":76.55},{"k":32,"s":"RBF−RFF","C":0.9,"acc":76.15},{"k":32,"s":"RBF−RFF","C":1,"acc":76.59},{"k":32,"s":"RBF−RFF","C":1.2,"acc":77.44},{"k":32,"s":"RBF−RFF","C":1.5,"acc":77.44},{"k":32,"s":"RBF−RFF","C":2,"acc":77.40},{"k":32,"s":"RBF−RFF","C":4,"acc":77.75},{"k":32,"s":"RBF−RFF","C":6,"acc":77.70},{"k":32,"s":"RBF−RFF","C":8,"acc":77.72},{"k":32,"s":"RBF−RFF","C":10,"acc":77.72},{"k":32,"s":"RBF−RFF","C":15,"acc":77.70},{"k":32,"s":"RBF−RFF","C":20,"acc":77.70},{"k":32,"s":"RBF−RFF","C":50,"acc":77.70},{"k":32,"s":"RBF−RFF","C":100,"acc":77.72},{"k":32,"s":"RBF−RFF","C":500,"acc":77.51},{"k":32,"s":"RBF−RFF","C":1000,"acc":79.60}
]
},
"concat": [
{"width": 343, "height": 250, "layer": [
 {"data": {"name": "acc"}, "transform": [{"filter": "datum.k === 1024"}], "mark": {"type": "line", "clip": true, "strokeWidth": 1.8},
  "encoding": {
   "x": {"field": "C", "type": "quantitative", "scale": {"type": "log", "domain": [0.01, 1500], "nice": false}, "axis": {"values": [0.01, 0.1, 1, 10, 100, 1000], "tickCount": 20, "title": "C", "labelExpr": "'10' + (datum.value < 0.05 ? '⁻²' : datum.value < 0.5 ? '⁻¹' : datum.value < 5 ? '⁰' : datum.value < 50 ? '¹' : datum.value < 500 ? '²' : '³')"}},
   "y": {"field": "acc", "type": "quantitative", "scale": {"domain": [91, 98], "nice": false, "zero": false}, "axis": {"values": [91, 92, 93, 94, 95, 96, 97, 98], "format": "d", "tickCount": 20, "labelOverlap": false, "title": "Acc (%)"}},
   "color": {"field": "s", "type": "nominal", "scale": {"domain": ["GMM−GCWS", "GMM−NYS", "RBF−NYS", "RBF−RFF"], "range": ["#ff0000", "#000000", "#0000ff", "#00ee00"]},
    "legend": {"orient": "none", "legendX": 166, "legendY": 132, "zindex": 5, "title": null, "encode": {"symbols": {"update": {
      "shape": {"signal": "datum.value === 'RBF−NYS' || datum.value === 'RBF−RFF' ? 'M-1,0L1,0M-0.22,0A0.22,0.22,0,1,1,0.22,0A0.22,0.22,0,1,1,-0.22,0' : 'M-1,0L1,0'"},
      "fill": {"signal": "datum.value === 'RBF−NYS' ? '#0000ff' : 'transparent'"},
      "strokeDash": {"signal": "datum.value === 'GMM−GCWS' ? [5, 4] : [1, 0]"},
      "strokeWidth": {"value": 2}, "opacity": {"value": 1}}}}}},
   "strokeDash": {"field": "s", "type": "nominal", "scale": {"domain": ["GMM−GCWS", "GMM−NYS", "RBF−NYS", "RBF−RFF"], "range": [[6, 4], [1, 0], [1, 0], [1, 0]]}, "legend": null}
  }},
 {"data": {"name": "acc"}, "transform": [{"filter": "datum.k === 1024 && datum.s === 'RBF−NYS' && datum.C <= 1000"}], "mark": {"type": "point", "filled": true, "fill": "#0000ff", "stroke": null, "size": 34, "opacity": 1, "clip": true},
  "encoding": {"x": {"field": "C", "type": "quantitative"}, "y": {"field": "acc", "type": "quantitative"}}},
 {"data": {"name": "acc"}, "transform": [{"filter": "datum.k === 1024 && datum.s === 'RBF−RFF'"}], "mark": {"type": "point", "filled": false, "stroke": "#00ee00", "strokeWidth": 1.5, "size": 42, "opacity": 1, "clip": true},
  "encoding": {"x": {"field": "C", "type": "quantitative"}, "y": {"field": "acc", "type": "quantitative"}}},
 {"data": {"name": "notes"}, "transform": [{"filter": "datum.k === 1024"}], "mark": {"type": "text", "align": "left", "baseline": "middle", "fontSize": 21, "fontWeight": "bold", "color": "#ff0000", "font": "Liberation Sans"},
  "encoding": {"x": {"field": "C", "type": "quantitative"}, "y": {"field": "acc", "type": "quantitative"}, "text": {"field": "label"}}}
]},
{"width": 343, "height": 250, "layer": [
 {"data": {"name": "acc"}, "transform": [{"filter": "datum.k === 512"}], "mark": {"type": "line", "clip": true, "strokeWidth": 1.8},
  "encoding": {
   "x": {"field": "C", "type": "quantitative", "scale": {"type": "log", "domain": [0.01, 1500], "nice": false}, "axis": {"values": [0.01, 0.1, 1, 10, 100, 1000], "tickCount": 20, "title": "C", "labelExpr": "'10' + (datum.value < 0.05 ? '⁻²' : datum.value < 0.5 ? '⁻¹' : datum.value < 5 ? '⁰' : datum.value < 50 ? '¹' : datum.value < 500 ? '²' : '³')"}},
   "y": {"field": "acc", "type": "quantitative", "scale": {"domain": [91, 98], "nice": false, "zero": false}, "axis": {"values": [91, 92, 93, 94, 95, 96, 97, 98], "format": "d", "tickCount": 20, "labelOverlap": false, "title": "Acc (%)"}},
   "color": {"field": "s", "type": "nominal", "scale": {"domain": ["GMM−GCWS", "GMM−NYS", "RBF−NYS", "RBF−RFF"], "range": ["#ff0000", "#000000", "#0000ff", "#00ee00"]}, "legend": null},
   "strokeDash": {"field": "s", "type": "nominal", "scale": {"domain": ["GMM−GCWS", "GMM−NYS", "RBF−NYS", "RBF−RFF"], "range": [[6, 4], [1, 0], [1, 0], [1, 0]]}, "legend": null}
  }},
 {"data": {"name": "acc"}, "transform": [{"filter": "datum.k === 512 && datum.s === 'RBF−NYS' && datum.C <= 1000"}], "mark": {"type": "point", "filled": true, "fill": "#0000ff", "stroke": null, "size": 34, "opacity": 1, "clip": true},
  "encoding": {"x": {"field": "C", "type": "quantitative"}, "y": {"field": "acc", "type": "quantitative"}}},
 {"data": {"name": "acc"}, "transform": [{"filter": "datum.k === 512 && datum.s === 'RBF−RFF'"}], "mark": {"type": "point", "filled": false, "stroke": "#00ee00", "strokeWidth": 1.5, "size": 42, "opacity": 1, "clip": true},
  "encoding": {"x": {"field": "C", "type": "quantitative"}, "y": {"field": "acc", "type": "quantitative"}}},
 {"data": {"name": "notes"}, "transform": [{"filter": "datum.k === 512"}], "mark": {"type": "text", "align": "left", "baseline": "middle", "fontSize": 21, "fontWeight": "bold", "color": "#ff0000", "font": "Liberation Sans"},
  "encoding": {"x": {"field": "C", "type": "quantitative"}, "y": {"field": "acc", "type": "quantitative"}, "text": {"field": "label"}}}
]},
{"width": 343, "height": 250, "layer": [
 {"data": {"name": "acc"}, "transform": [{"filter": "datum.k === 256"}], "mark": {"type": "line", "clip": true, "strokeWidth": 1.8},
  "encoding": {
   "x": {"field": "C", "type": "quantitative", "scale": {"type": "log", "domain": [0.01, 1500], "nice": false}, "axis": {"values": [0.01, 0.1, 1, 10, 100, 1000], "tickCount": 20, "title": "C", "labelExpr": "'10' + (datum.value < 0.05 ? '⁻²' : datum.value < 0.5 ? '⁻¹' : datum.value < 5 ? '⁰' : datum.value < 50 ? '¹' : datum.value < 500 ? '²' : '³')"}},
   "y": {"field": "acc", "type": "quantitative", "scale": {"domain": [91, 98], "nice": false, "zero": false}, "axis": {"values": [91, 92, 93, 94, 95, 96, 97, 98], "format": "d", "tickCount": 20, "labelOverlap": false, "title": "Acc (%)"}},
   "color": {"field": "s", "type": "nominal", "scale": {"domain": ["GMM−GCWS", "GMM−NYS", "RBF−NYS", "RBF−RFF"], "range": ["#ff0000", "#000000", "#0000ff", "#00ee00"]}, "legend": null},
   "strokeDash": {"field": "s", "type": "nominal", "scale": {"domain": ["GMM−GCWS", "GMM−NYS", "RBF−NYS", "RBF−RFF"], "range": [[6, 4], [1, 0], [1, 0], [1, 0]]}, "legend": null}
  }},
 {"data": {"name": "acc"}, "transform": [{"filter": "datum.k === 256 && datum.s === 'RBF−NYS' && datum.C <= 1000"}], "mark": {"type": "point", "filled": true, "fill": "#0000ff", "stroke": null, "size": 34, "opacity": 1, "clip": true},
  "encoding": {"x": {"field": "C", "type": "quantitative"}, "y": {"field": "acc", "type": "quantitative"}}},
 {"data": {"name": "acc"}, "transform": [{"filter": "datum.k === 256 && datum.s === 'RBF−RFF'"}], "mark": {"type": "point", "filled": false, "stroke": "#00ee00", "strokeWidth": 1.5, "size": 42, "opacity": 1, "clip": true},
  "encoding": {"x": {"field": "C", "type": "quantitative"}, "y": {"field": "acc", "type": "quantitative"}}},
 {"data": {"name": "notes"}, "transform": [{"filter": "datum.k === 256"}], "mark": {"type": "text", "align": "left", "baseline": "middle", "fontSize": 21, "fontWeight": "bold", "color": "#ff0000", "font": "Liberation Sans"},
  "encoding": {"x": {"field": "C", "type": "quantitative"}, "y": {"field": "acc", "type": "quantitative"}, "text": {"field": "label"}}}
]},
{"width": 343, "height": 250, "layer": [
 {"data": {"name": "acc"}, "transform": [{"filter": "datum.k === 128"}], "mark": {"type": "line", "clip": true, "strokeWidth": 1.8},
  "encoding": {
   "x": {"field": "C", "type": "quantitative", "scale": {"type": "log", "domain": [0.01, 1500], "nice": false}, "axis": {"values": [0.01, 0.1, 1, 10, 100, 1000], "tickCount": 20, "title": "C", "labelExpr": "'10' + (datum.value < 0.05 ? '⁻²' : datum.value < 0.5 ? '⁻¹' : datum.value < 5 ? '⁰' : datum.value < 50 ? '¹' : datum.value < 500 ? '²' : '³')"}},
   "y": {"field": "acc", "type": "quantitative", "scale": {"domain": [86, 96], "nice": false, "zero": false}, "axis": {"values": [86, 88, 90, 92, 94, 96], "format": "d", "tickCount": 20, "labelOverlap": false, "title": "Acc (%)"}},
   "color": {"field": "s", "type": "nominal", "scale": {"domain": ["GMM−GCWS", "GMM−NYS", "RBF−NYS", "RBF−RFF"], "range": ["#ff0000", "#000000", "#0000ff", "#00ee00"]},
    "legend": {"orient": "none", "legendX": 147, "legendY": 100, "zindex": 5, "title": null, "encode": {"symbols": {"update": {
      "shape": {"signal": "datum.value === 'RBF−NYS' || datum.value === 'RBF−RFF' ? 'M-1,0L1,0M-0.22,0A0.22,0.22,0,1,1,0.22,0A0.22,0.22,0,1,1,-0.22,0' : 'M-1,0L1,0'"},
      "fill": {"signal": "datum.value === 'RBF−NYS' ? '#0000ff' : 'transparent'"},
      "strokeDash": {"signal": "datum.value === 'GMM−GCWS' ? [5, 4] : [1, 0]"},
      "strokeWidth": {"value": 2}, "opacity": {"value": 1}}}}}},
   "strokeDash": {"field": "s", "type": "nominal", "scale": {"domain": ["GMM−GCWS", "GMM−NYS", "RBF−NYS", "RBF−RFF"], "range": [[6, 4], [1, 0], [1, 0], [1, 0]]}, "legend": null}
  }},
 {"data": {"name": "acc"}, "transform": [{"filter": "datum.k === 128 && datum.s === 'RBF−NYS' && datum.C <= 1000"}], "mark": {"type": "point", "filled": true, "fill": "#0000ff", "stroke": null, "size": 34, "opacity": 1, "clip": true},
  "encoding": {"x": {"field": "C", "type": "quantitative"}, "y": {"field": "acc", "type": "quantitative"}}},
 {"data": {"name": "acc"}, "transform": [{"filter": "datum.k === 128 && datum.s === 'RBF−RFF'"}], "mark": {"type": "point", "filled": false, "stroke": "#00ee00", "strokeWidth": 1.5, "size": 42, "opacity": 1, "clip": true},
  "encoding": {"x": {"field": "C", "type": "quantitative"}, "y": {"field": "acc", "type": "quantitative"}}},
 {"data": {"name": "notes"}, "transform": [{"filter": "datum.k === 128"}], "mark": {"type": "text", "align": "left", "baseline": "middle", "fontSize": 21, "fontWeight": "bold", "color": "#ff0000", "font": "Liberation Sans"},
  "encoding": {"x": {"field": "C", "type": "quantitative"}, "y": {"field": "acc", "type": "quantitative"}, "text": {"field": "label"}}}
]},
{"width": 343, "height": 250, "layer": [
 {"data": {"name": "acc"}, "transform": [{"filter": "datum.k === 64"}], "mark": {"type": "line", "clip": true, "strokeWidth": 1.8},
  "encoding": {
   "x": {"field": "C", "type": "quantitative", "scale": {"type": "log", "domain": [0.01, 1500], "nice": false}, "axis": {"values": [0.01, 0.1, 1, 10, 100, 1000], "tickCount": 20, "title": "C", "labelExpr": "'10' + (datum.value < 0.05 ? '⁻²' : datum.value < 0.5 ? '⁻¹' : datum.value < 5 ? '⁰' : datum.value < 50 ? '¹' : datum.value < 500 ? '²' : '³')"}},
   "y": {"field": "acc", "type": "quantitative", "scale": {"domain": [84, 94], "nice": false, "zero": false}, "axis": {"values": [84, 86, 88, 90, 92, 94], "format": "d", "tickCount": 20, "labelOverlap": false, "title": "Acc (%)"}},
   "color": {"field": "s", "type": "nominal", "scale": {"domain": ["GMM−GCWS", "GMM−NYS", "RBF−NYS", "RBF−RFF"], "range": ["#ff0000", "#000000", "#0000ff", "#00ee00"]},
    "legend": {"orient": "none", "legendX": 146, "legendY": 108, "zindex": 5, "title": null, "encode": {"symbols": {"update": {
      "shape": {"signal": "datum.value === 'RBF−NYS' || datum.value === 'RBF−RFF' ? 'M-1,0L1,0M-0.22,0A0.22,0.22,0,1,1,0.22,0A0.22,0.22,0,1,1,-0.22,0' : 'M-1,0L1,0'"},
      "fill": {"signal": "datum.value === 'RBF−NYS' ? '#0000ff' : 'transparent'"},
      "strokeDash": {"signal": "datum.value === 'GMM−GCWS' ? [5, 4] : [1, 0]"},
      "strokeWidth": {"value": 2}, "opacity": {"value": 1}}}}}},
   "strokeDash": {"field": "s", "type": "nominal", "scale": {"domain": ["GMM−GCWS", "GMM−NYS", "RBF−NYS", "RBF−RFF"], "range": [[6, 4], [1, 0], [1, 0], [1, 0]]}, "legend": null}
  }},
 {"data": {"name": "acc"}, "transform": [{"filter": "datum.k === 64 && datum.s === 'RBF−NYS' && datum.C <= 1000"}], "mark": {"type": "point", "filled": true, "fill": "#0000ff", "stroke": null, "size": 34, "opacity": 1, "clip": true},
  "encoding": {"x": {"field": "C", "type": "quantitative"}, "y": {"field": "acc", "type": "quantitative"}}},
 {"data": {"name": "acc"}, "transform": [{"filter": "datum.k === 64 && datum.s === 'RBF−RFF'"}], "mark": {"type": "point", "filled": false, "stroke": "#00ee00", "strokeWidth": 1.5, "size": 42, "opacity": 1, "clip": true},
  "encoding": {"x": {"field": "C", "type": "quantitative"}, "y": {"field": "acc", "type": "quantitative"}}},
 {"data": {"name": "notes"}, "transform": [{"filter": "datum.k === 64"}], "mark": {"type": "text", "align": "left", "baseline": "middle", "fontSize": 21, "fontWeight": "bold", "color": "#ff0000", "font": "Liberation Sans"},
  "encoding": {"x": {"field": "C", "type": "quantitative"}, "y": {"field": "acc", "type": "quantitative"}, "text": {"field": "label"}}}
]},
{"width": 343, "height": 250, "layer": [
 {"data": {"name": "acc"}, "transform": [{"filter": "datum.k === 32"}], "mark": {"type": "line", "clip": true, "strokeWidth": 1.8},
  "encoding": {
   "x": {"field": "C", "type": "quantitative", "scale": {"type": "log", "domain": [0.01, 1500], "nice": false}, "axis": {"values": [0.01, 0.1, 1, 10, 100, 1000], "tickCount": 20, "title": "C", "labelExpr": "'10' + (datum.value < 0.05 ? '⁻²' : datum.value < 0.5 ? '⁻¹' : datum.value < 5 ? '⁰' : datum.value < 50 ? '¹' : datum.value < 500 ? '²' : '³')"}},
   "y": {"field": "acc", "type": "quantitative", "scale": {"domain": [76, 90], "nice": false, "zero": false}, "axis": {"values": [76, 78, 80, 82, 84, 86, 88, 90], "format": "d", "tickCount": 20, "labelOverlap": false, "title": "Acc (%)"}},
   "color": {"field": "s", "type": "nominal", "scale": {"domain": ["GMM−GCWS", "GMM−NYS", "RBF−NYS", "RBF−RFF"], "range": ["#ff0000", "#000000", "#0000ff", "#00ee00"]},
    "legend": {"orient": "none", "legendX": 159, "legendY": 98, "zindex": 5, "title": null, "encode": {"symbols": {"update": {
      "shape": {"signal": "datum.value === 'RBF−NYS' || datum.value === 'RBF−RFF' ? 'M-1,0L1,0M-0.22,0A0.22,0.22,0,1,1,0.22,0A0.22,0.22,0,1,1,-0.22,0' : 'M-1,0L1,0'"},
      "fill": {"signal": "datum.value === 'RBF−NYS' ? '#0000ff' : 'transparent'"},
      "strokeDash": {"signal": "datum.value === 'GMM−GCWS' ? [5, 4] : [1, 0]"},
      "strokeWidth": {"value": 2}, "opacity": {"value": 1}}}}}},
   "strokeDash": {"field": "s", "type": "nominal", "scale": {"domain": ["GMM−GCWS", "GMM−NYS", "RBF−NYS", "RBF−RFF"], "range": [[6, 4], [1, 0], [1, 0], [1, 0]]}, "legend": null}
  }},
 {"data": {"name": "acc"}, "transform": [{"filter": "datum.k === 32 && datum.s === 'RBF−NYS' && datum.C <= 1000"}], "mark": {"type": "point", "filled": true, "fill": "#0000ff", "stroke": null, "size": 34, "opacity": 1, "clip": true},
  "encoding": {"x": {"field": "C", "type": "quantitative"}, "y": {"field": "acc", "type": "quantitative"}}},
 {"data": {"name": "acc"}, "transform": [{"filter": "datum.k === 32 && datum.s === 'RBF−RFF'"}], "mark": {"type": "point", "filled": false, "stroke": "#00ee00", "strokeWidth": 1.5, "size": 42, "opacity": 1, "clip": true},
  "encoding": {"x": {"field": "C", "type": "quantitative"}, "y": {"field": "acc", "type": "quantitative"}}},
 {"data": {"name": "notes"}, "transform": [{"filter": "datum.k === 32"}], "mark": {"type": "text", "align": "left", "baseline": "middle", "fontSize": 21, "fontWeight": "bold", "color": "#ff0000", "font": "Liberation Sans"},
  "encoding": {"x": {"field": "C", "type": "quantitative"}, "y": {"field": "acc", "type": "quantitative"}, "text": {"field": "label"}}}
]}
],
"config": {
 "font": "Liberation Sans",
 "view": {"stroke": "#000000", "strokeWidth": 1},
 "axis": {"labelFont": "Liberation Sans", "labelFontSize": 19, "labelColor": "#000000", "titleFont": "Liberation Sans", "titleFontSize": 20, "titleFontWeight": "normal", "titleColor": "#000000", "grid": true, "gridColor": "#555555", "gridDash": [1, 3], "gridWidth": 1, "gridOpacity": 1, "domain": false, "ticks": true, "tickSize": -5, "tickColor": "#000000", "tickWidth": 1, "labelOverlap": false, "tickCount": 20},
 "axisX": {"labelPadding": 15, "titlePadding": 3, "labelFlush": false},
 "axisY": {"labelPadding": 10, "titlePadding": 5, "labelFlush": false},
 "legend": {"labelFont": "Liberation Sans", "labelFontSize": 20, "labelColor": "#000000", "strokeColor": "#000000", "fillColor": "#ffffff", "padding": 7, "symbolSize": 900, "rowPadding": 0, "labelOffset": 6, "symbolStrokeWidth": 2, "labelLimit": 300, "cornerRadius": 0}
}
}
